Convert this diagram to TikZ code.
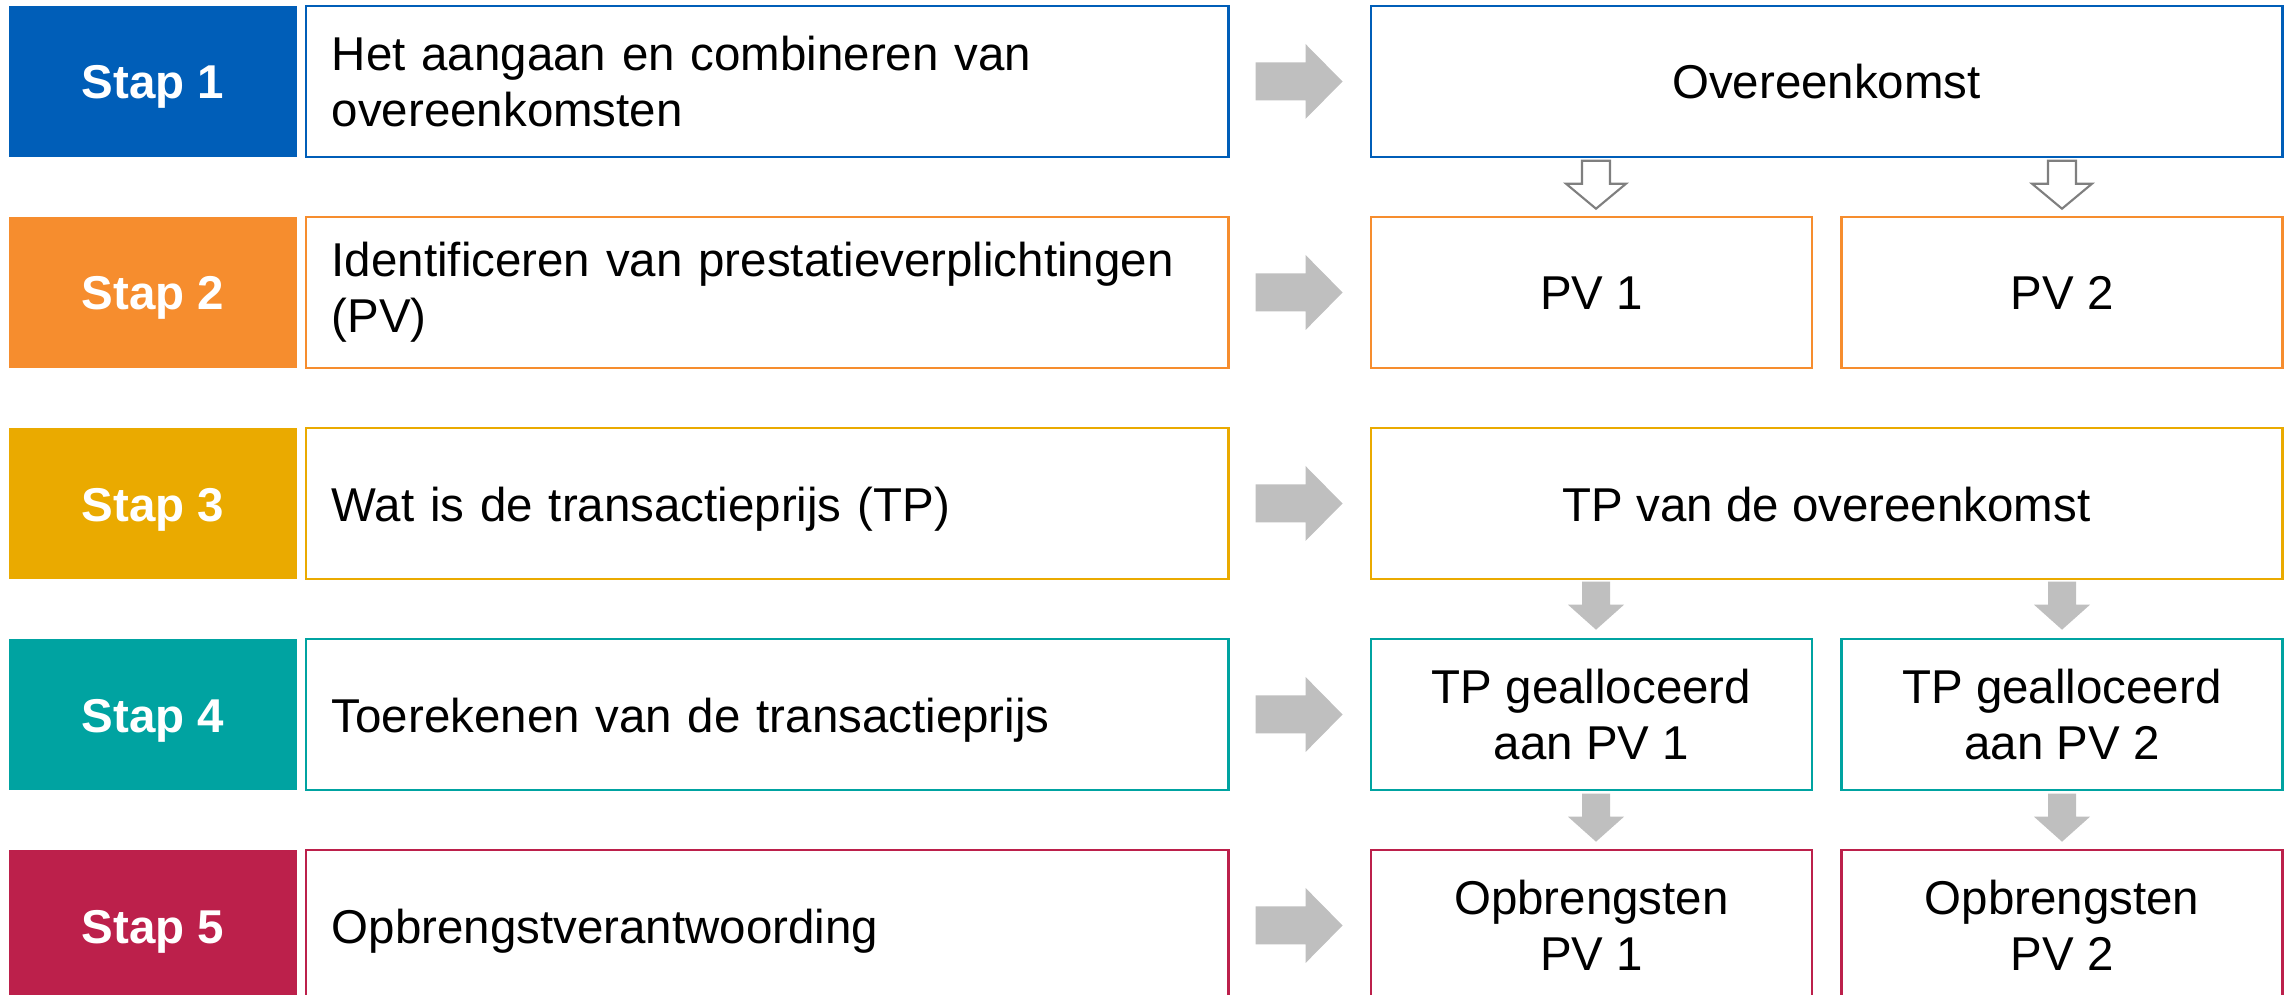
\documentclass[tikz,border=0pt]{standalone}
\usepackage{fontspec}
\setmainfont{Liberation Sans}
\usepackage{tikz}
\usetikzlibrary{calc}
\definecolor{stapblue}{HTML}{005EB8}
\definecolor{staporange}{HTML}{F68D2E}
\definecolor{stapyellow}{HTML}{EAAA00}
\definecolor{stapgreen}{HTML}{00A3A1}
\definecolor{stapred}{HTML}{BC204B}
\definecolor{arrowgray}{HTML}{BFBFBF}
\definecolor{outlinegray}{HTML}{7F7F7F}
\tikzset{
  pics/rightblock/.style={code={
    \fill [arrowgray] (-44,-19) -- (6,-19) -- (6,-37.5) -- (43,0) -- (6,37.5) -- (6,19) -- (-44,19) -- cycle;
  }},
  pics/soliddown/.style={code={
    \fill [arrowgray] (-14,-48) -- (14,-48) -- (14,-25) -- (28,-25) -- (0,0) -- (-28,-25) -- (-14,-25) -- cycle;
  }},
  pics/hollowdown/.style={code={
    \filldraw [fill=white, draw=outlinegray, line width=0.6pt] (-14,-48) -- (14,-48) -- (14,-25) -- (30,-25) -- (0,0) -- (-30,-25) -- (-14,-25) -- cycle;
  }}
}

\begin{document}
\begin{tikzpicture}[x=0.01cm,y=-0.01cm]
\tikzstyle{every node}+=[inner sep=0pt, font=\fontsize{13.5}{16}\selectfont]
\tikzstyle{oneline}=[text height=0.35cm, text depth=0cm]
\tikzstyle{stapbox}=[oneline, minimum width=2.88cm, minimum height=1.51cm, text=white, font=\fontsize{13.5}{16}\selectfont\bfseries]
\tikzstyle{descbox}=[line width=0.7pt, fill=white, minimum height=1.51cm, text width=8.70cm, inner xsep=0.26cm, align=left]
\tikzstyle{resbox}=[line width=0.7pt, fill=white, minimum height=1.51cm, minimum width=4.41cm, align=center]
\useasboundingbox (0,0) rectangle (2284,995);
\node [stapbox, fill=stapblue] (s1) at (153,81.5) {Stap 1};
\node [descbox, draw=stapblue] (d1) at (767,81.5) {Het aangaan en combineren van\\overeenkomsten};
\node [resbox, oneline, draw=stapblue, minimum width=9.11cm] (ov) at (1826.5,81.5) {Overeenkomst};
\node [stapbox, fill=staporange] (s2) at (153,292.5) {Stap 2};
\node [descbox, draw=staporange] (d2) at (767,292.5) {Identificeren van prestatieverplichtingen\\(PV)};
\node [resbox, oneline, draw=staporange] (pv1) at (1591.5,292.5) {PV 1};
\node [resbox, oneline, draw=staporange] (pv2) at (2062,292.5) {PV 2};
\node [stapbox, fill=stapyellow] (s3) at (153,503.5) {Stap 3};
\node [descbox, oneline, draw=stapyellow] (d3) at (767,503.5) {Wat is de transactieprijs (TP)};
\node [resbox, oneline, draw=stapyellow, minimum width=9.11cm] (tp) at (1826.5,503.5) {TP van de overeenkomst};
\node [stapbox, fill=stapgreen] (s4) at (153,714.5) {Stap 4};
\node [descbox, oneline, draw=stapgreen] (d4) at (767,714.5) {Toerekenen van de transactieprijs};
\node [resbox, draw=stapgreen] (ta1) at (1591.5,714.5) {TP gealloceerd\\aan PV 1};
\node [resbox, draw=stapgreen] (ta2) at (2062,714.5) {TP gealloceerd\\aan PV 2};
\node [stapbox, fill=stapred] (s5) at (153,925.5) {Stap 5};
\node [descbox, oneline, draw=stapred] (d5) at (767,925.5) {Opbrengstverantwoording};
\node [resbox, draw=stapred] (op1) at (1591.5,925.5) {Opbrengsten\\PV 1};
\node [resbox, draw=stapred] (op2) at (2062,925.5) {Opbrengsten\\PV 2};
\pic at ($(d1.east)!.5!(ov.west)$) {rightblock};
\pic at ($(d2.east)!.5!(pv1.west)$) {rightblock};
\pic at ($(d3.east)!.5!(tp.west)$) {rightblock};
\pic at ($(d4.east)!.5!(ta1.west)$) {rightblock};
\pic at ($(d5.east)!.5!(op1.west)$) {rightblock};
\pic at ([xshift=0.045cm, yshift=0.07cm]pv1.north) {hollowdown};
\pic at ([yshift=0.07cm]pv2.north) {hollowdown};
\pic at ([xshift=0.045cm, yshift=0.08cm]ta1.north) {soliddown};
\pic at ([yshift=0.08cm]ta2.north) {soliddown};
\pic at ([xshift=0.045cm, yshift=0.07cm]op1.north) {soliddown};
\pic at ([yshift=0.07cm]op2.north) {soliddown};
\end{tikzpicture}
\end{document}
